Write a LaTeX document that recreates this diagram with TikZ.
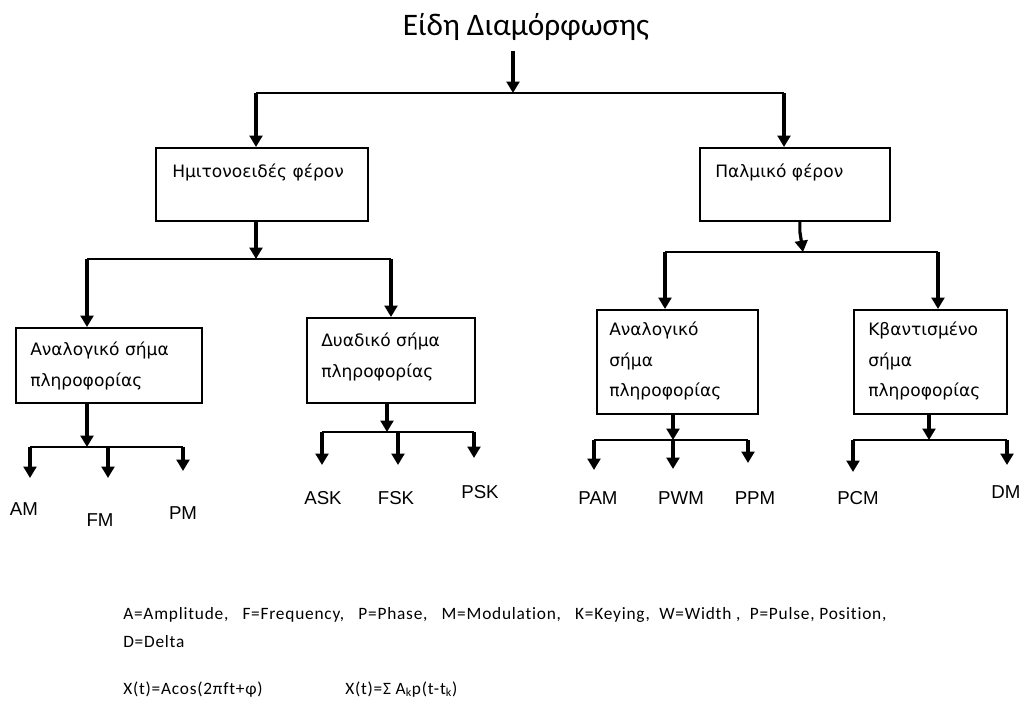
\documentclass[tikz,border=0pt]{standalone}
\usepackage{fontspec}
\setmainfont{Carlito}
\newfontfamily\boxfont{DejaVu Sans}
\newfontfamily\labfont{Liberation Sans}
\newfontfamily\notefont[LetterSpace=4.5,Ligatures=NoCommon]{Carlito}
\usetikzlibrary{arrows.meta}

\begin{document}
\begin{tikzpicture}[x=0.75pt,y=-0.75pt,
  box/.style={draw, line width=1.3pt, inner sep=0pt, anchor=north west},
  boxtext/.style={anchor=north west, inner sep=0pt, align=left,
    font=\boxfont\fontsize{12.8}{22.8}\selectfont},
  link/.style={line width=2.4pt, -{Triangle[width=9.5pt,length=8.5pt]}},
  bus/.style={line width=1.5pt},
  lab/.style={font=\labfont\fontsize{14}{16}\selectfont, inner sep=0pt},
  note/.style={font=\notefont\fontsize{13}{15}\selectfont, inner sep=0pt, anchor=base west}]
\useasboundingbox[fill=white] (0,0) rectangle (1022,702);

% title
\node[font=\fontsize{23.5}{26}\selectfont, inner sep=0pt, anchor=base] (title) at (526,36) {Είδη Διαμόρφωσης};

% boxes
\node[box, minimum width=159pt, minimum height=54.75pt] (sine) at (155,147) {};
\node[box, minimum width=142.5pt, minimum height=54.75pt] (pulse) at (699,147) {};
\node[box, minimum width=139.5pt, minimum height=56.25pt] (an1) at (15,327) {};
\node[box, minimum width=126pt, minimum height=63.75pt] (bin) at (306,317) {};
\node[box, minimum width=120.75pt, minimum height=78pt] (an2) at (596,309) {};
\node[box, minimum width=114.75pt, minimum height=78pt] (qu) at (853,309) {};

% box texts
\node[boxtext] (sinet) at (172,164) {Ημιτονοειδές φέρον};
\node[boxtext] (pulset) at (715,164) {Παλμικό φέρον};
\node[boxtext] (an1t) at (30,342) {Αναλογικό σήμα\\πληροφορίας};
\node[boxtext] (bint) at (321,333) {Δυαδικό σήμα\\πληροφορίας};
\node[boxtext] (an2t) at (609,322) {Αναλογικό\\σήμα\\πληροφορίας};
\node[boxtext] (qut) at (868,322) {Κβαντισμένο\\σήμα\\πληροφορίας};

% bus junctions
\coordinate (j0) at (513,93);
\coordinate (j0l) at (256,93);
\coordinate (j0r) at (784,93);
\coordinate (j1) at (256,259);
\coordinate (j1l) at (87,259);
\coordinate (j1r) at (391,259);
\coordinate (j2) at (803,252);
\coordinate (j2l) at (665,252);
\coordinate (j2r) at (938,252);
\coordinate (j3) at (87,447);
\coordinate (j3l) at (30,447);
\coordinate (j3m) at (108,447);
\coordinate (j3r) at (183,447);
\coordinate (j4) at (387,432);
\coordinate (j4l) at (322,432);
\coordinate (j4m) at (398,432);
\coordinate (j4r) at (474,432);
\coordinate (j5) at (673,440);
\coordinate (j5l) at (594,440);
\coordinate (j5r) at (748,440);
\coordinate (j6) at (929,440);
\coordinate (j6l) at (853,440);
\coordinate (j6r) at (1007,440);

% arrow ends above the leaf labels
\coordinate (eAM) at (30,478);
\coordinate (eFM) at (108,478);
\coordinate (ePM) at (183,471);
\coordinate (eASK) at (322,465);
\coordinate (eFSK) at (398,465);
\coordinate (ePSK) at (474,458);
\coordinate (ePAM) at (594,470);
\coordinate (ePWM) at (673,469);
\coordinate (ePPM) at (748,463);
\coordinate (ePCM) at (853,472);
\coordinate (eDM) at (1007,465);

% leaf labels
\node[lab] (am) at (24,509) {AM};
\node[lab] (fm) at (100,520) {FM};
\node[lab] (pm) at (183,513) {PM};
\node[lab] (ask) at (323,498) {ASK};
\node[lab] (fsk) at (396,498) {FSK};
\node[lab] (psk) at (480,492) {PSK};
\node[lab] (pam) at (598,498) {PAM};
\node[lab] (pwm) at (681,498) {PWM};
\node[lab] (ppm) at (755,498) {PPM};
\node[lab] (pcm) at (858,498) {PCM};
\node[lab] (dm) at (1006,492) {DM};

% level 1
\draw[link] (j0 |- title.south) ++(0,10) -- (j0);
\draw[bus] (j0l) -- (j0r);
\draw[link] (j0l) -- (j0l |- sine.north);
\draw[link] (j0r) -- (j0r |- pulse.north);

% level 2, sinusoidal carrier
\draw[link] (j1 |- sine.south) -- (j1);
\draw[bus] (j1l) -- (j1r);
\draw[link] (j1l) -- (j1l |- an1.north);
\draw[link] (j1r) -- (j1r |- bin.north);

% level 2, pulse carrier
\draw[link] ([xshift=3.75pt]pulse.south) -- ++(0,10) -- (j2);
\draw[bus] (j2l) -- (j2r);
\draw[link] (j2l) -- (j2l |- an2.north);
\draw[link] (j2r) -- (j2r |- qu.north);

% leaves under the analogue (sinusoidal) box
\draw[link] (j3 |- an1.south) -- (j3);
\draw[bus] (j3l) -- (j3r);
\draw[link] (j3l) -- (eAM);
\draw[link] (j3m) -- (eFM);
\draw[link] (j3r) -- (ePM);

% leaves under the binary box
\draw[link] (j4 |- bin.south) -- (j4);
\draw[bus] (j4l) -- (j4r);
\draw[link] (j4l) -- (eASK);
\draw[link] (j4m) -- (eFSK);
\draw[link] (j4r) -- (ePSK);

% leaves under the analogue (pulse) box
\draw[link] (j5 |- an2.south) -- (j5);
\draw[bus] (j5l) -- (j5r);
\draw[link] (j5l) -- (ePAM);
\draw[link] (j5) -- (ePWM);
\draw[link] (j5r) -- (ePPM);

% leaves under the quantised box
\draw[link] (j6 |- qu.south) -- (j6);
\draw[bus] (j6l) -- (j6r);
\draw[link] (j6l) -- (ePCM);
\draw[link] (j6r) -- (eDM);

% notes
\node[note] (n1) at (123,619) {A=Amplitude,\ \ \ F=Frequency,\ \ \ P=Phase,\ \ \ M=Modulation,\ \ \ K=Keying,\ \ W=Width ,\ \ P=Pulse, Position,};
\node[note] (n2) at (123,647) {D=Delta};
\node[note] (n3) at (123,694) {X(t)=Acos(2πft+φ)};
\node[note] (n4) at (345,694) {X(t)=Σ A\textsubscript{k}p(t-t\textsubscript{k})};
\end{tikzpicture}
\end{document}
